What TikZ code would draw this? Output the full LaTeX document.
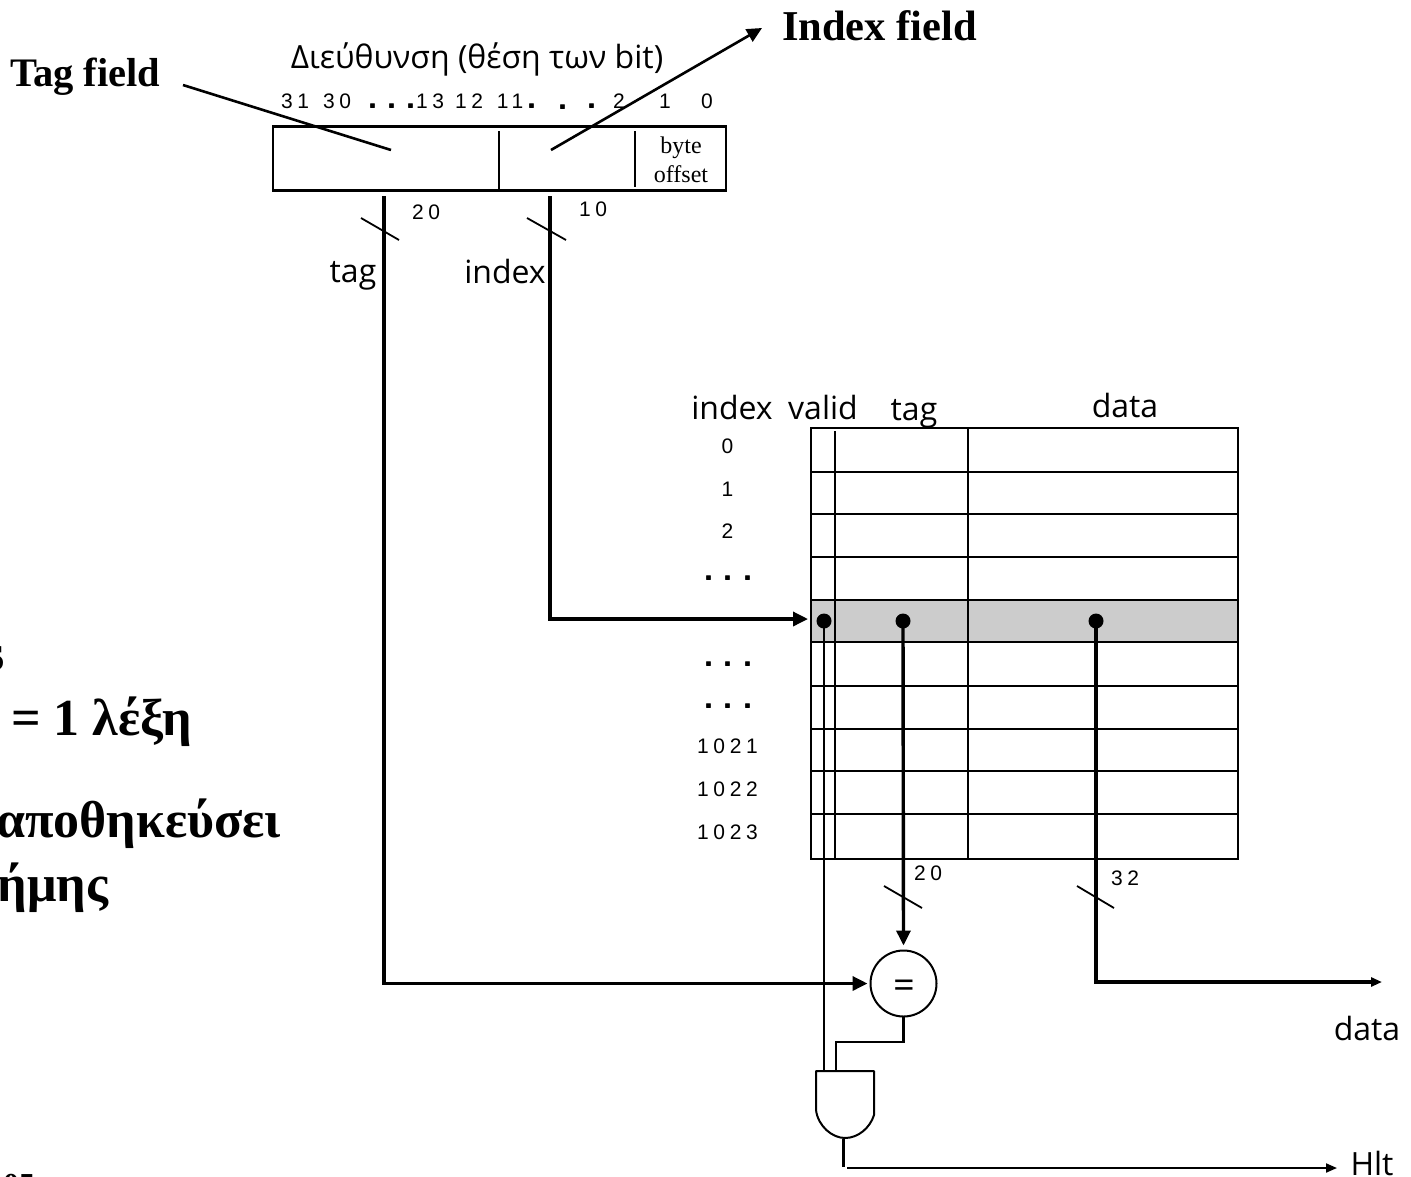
\documentclass[tikz,border=0pt]{standalone}
\usepackage{fontspec}
\usetikzlibrary{arrows.meta,calc}
\setmainfont{Liberation Serif}
\newfontfamily\cmc{Open Sans}
\newfontfamily\nums[LetterSpace=22]{Liberation Sans}
\definecolor{rowgray}{RGB}{204,204,204}
\newcommand{\fsz}[1]{\fontsize{#1}{#1}\selectfont}
\tikzset{
  x=1pt,y=-1pt,
  every node/.style={inner sep=0pt,outer sep=0pt},
  thinl/.style={line width=2.1pt,line cap=butt},
  thickl/.style={line width=3.4pt},
  tip/.style={-{Triangle[length=15pt,width=14pt]}},
  smalltip/.style={-{Triangle[length=11pt,width=9pt]}},
  big/.style={font=\bfseries\fsz{#1}},
  bigleft/.style={font=\bfseries\fsz{52},anchor=base east},
  cmclabel/.style={font=\cmc\fsz{32},anchor=base},
  num/.style={font=\nums\fsz{21}},
  srf/.style={font=\fsz{24},anchor=base},
  dotl/.style={font=\bfseries\sffamily\fsz{36},anchor=base},
  pin/.style={fill=black,circle,minimum size=15pt},
  boxs/.style={draw,line width=2.2pt,rectangle},
}
\begin{document}
\begin{tikzpicture}
\useasboundingbox (0,0) rectangle (1411,1176);
% clipped text at the left edge
\begin{scope}
\clip (0,0) rectangle (1411,1176);
\node[bigleft] (tl1) at (5,670) {s};
\node[bigleft] (tl2) at (192,735) {= 1 λέξη};
\node[bigleft] (tl3) at (281,837) {αποθηκεύσει};
\node[bigleft] (tl4) at (108,901) {ήμης};
\node[font=\bfseries\fsz{32},anchor=base west] (tl5) at (3,1195) {05};
\end{scope}
% address box
\node[boxs,minimum width=453pt,minimum height=64pt] (addr) at (499.5,158.5) {};
\coordinate (divA1) at (499,131); \coordinate (divA2) at (499,189);
\coordinate (divB1) at (635,131); \coordinate (divB2) at (635,187);
\draw[thinl,line width=2.4pt] (divA1) -- (divA2);
\draw[thinl,line width=2.4pt] (divB1) -- (divB2);
\node[srf] (byte) at (681,153) {byte};
\node[srf] (offset) at (681,182) {offset};
\node[big=40.5,anchor=base west] (tagfield) at (10,86) {Tag field};
\node[big=42.5,anchor=base west] (indexfield) at (782,40) {Index field};
\node[cmclabel] (addrtitle) at (477,68) {Διεύθυνση (θέση των bit)};
\coordinate (tfS) at (183,85); \coordinate (tfE) at (391,150);
\coordinate (ifS) at (551,150); \coordinate (ifE) at (762,28);
\draw[thinl,line width=2.6pt] (tfS) -- (tfE);
\draw[thinl,line width=2.6pt,tip] (ifS) -- (ifE);
% bit numbers
\foreach \n/\x/\t in {b31/295/31,b30/337/30,b13/430/13,b12/469/12,b11/510/11,b2/619/2,b1/665/1,b0/707/0}
  \node[num] (\n) at (\x,101) {\t};
\foreach \n/\x/\y in {d1/373/108.5,d2/392/108.5,d3/411/108.5,d4/532/108.5,d5/563/109.5,d6/592/108.5}
  \node[dotl] (\n) at (\x,\y) {.};
\node[num] (n20a) at (426,212) {20};
\node[num] (n10) at (593,209) {10};
\node[cmclabel] (lbltag) at (353,282) {tag};
\node[cmclabel] (lblindex) at (505,283) {index};
% table
\fill[rowgray] (811,600) rectangle (1238,642);
\node[draw,line width=2pt,minimum width=427pt,minimum height=431pt] (tbl) at (1024.5,643.5) {};
\foreach \y/\i in {472/a,514/b,557/c,600/d,642/e,686/f,729/g,771/h,814/i} {
  \coordinate (rowL\i) at (811,\y); \coordinate (rowR\i) at (1238,\y);
  \draw[thinl] (rowL\i) -- (rowR\i);
}
\coordinate (colAt) at (835,431); \coordinate (colAb) at (835,859);
\coordinate (colBt) at (968,428); \coordinate (colBb) at (968,859);
\draw[thinl] (colAt) -- (colAb);
\draw[thinl] (colBt) -- (colBb);
\node[cmclabel] (hindex) at (732,419) {index};
\node[cmclabel] (hvalid) at (823,419) {valid};
\node[cmclabel] (htag) at (914,420) {tag};
\node[cmclabel] (hdata) at (1125,417) {data};
\foreach \n/\y/\t in {i0/446/0,i1/489/1,i2/531/2,i1021/746/1021,i1022/789/1022,i1023/832/1023}
  \node[num] (\n) at (727.5,\y) {\t};
\foreach \n/\x/\y in {e1/709/580,e2/728/580,e3/748/580,e4/709/666,e5/728/666,e6/748/666,e7/709/708,e8/728/708,e9/748/708}
  \node[dotl] (\n) at (\x,\y) {.};
\node[pin] (pv) at (824,621) {};
\node[pin] (pt) at (903,621) {};
\node[pin] (pd) at (1096,621) {};
\node[num] (n20b) at (928,873) {20};
\node[num] (n32) at (1125,878) {32};
% comparator and gate
\node[draw,circle,line width=2pt,minimum size=66pt] (cmp) at (903.5,983.5) {};
\node[font=\cmc\fsz{38},anchor=base] (eqsign) at (904,998) {=};
\coordinate (gTL) at (816,1071); \coordinate (gTR) at (874,1071);
\coordinate (gLd) at (816,1110); \coordinate (gRd) at (874,1115);
\coordinate (gB) at (845,1138);
\draw[line width=2pt,line join=round] (gLd) -- (gTL) -- (gTR) -- (gRd)
  .. controls (870,1128) and (858,1138) .. (gB)
  .. controls (832,1138) and (818,1126) .. (gLd);
% connectors
\coordinate (tagS) at (384,196); \coordinate (tagC) at (384,983.5);
\coordinate (idxS) at (550,196); \coordinate (idxC) at (550,619);
\coordinate (idxE) at (808,619);
\draw[thickl,tip,line join=miter,shorten >=3pt] (tagS) -- (tagC) -- (cmp.west);
\draw[thickl,tip,line join=miter] (idxS) -- (idxC) -- (idxE);
\draw[thickl,tip,shorten >=5pt] (pt.center) -- (cmp.north);
\coordinate (datC) at (1096,982); \coordinate (datE) at (1382,982);
\draw[thickl,smalltip,line join=miter] (pd.center) -- (datC) -- (datE);
\coordinate (vldE) at (824,1071);
\draw[line width=2.2pt] (pv.center) -- (vldE);
\coordinate (cmpC1) at (903.5,1042); \coordinate (cmpC2) at (836,1042); \coordinate (cmpE) at (836,1071);
\draw[line width=2.2pt] (cmp.south) -- (cmpC1) -- (cmpC2) -- (cmpE);
\coordinate (gOut) at (843.5,1167); \coordinate (hS) at (847,1168); \coordinate (hE) at (1337,1168);
\draw[line width=2.2pt] ($(gB)+(-1.5,1)$) -- (gOut);
\draw[line width=2pt,smalltip] (hS) -- (hE);
% bus slashes
\foreach \a/\b/\c/\d/\n in {361/218/399/240/sa,527/218/566/240/sb,884/886/922/908/sc,1077/886/1114/908/sd} {
  \coordinate (\n1) at (\a,\b); \coordinate (\n2) at (\c,\d);
  \draw[line width=1.8pt] (\n1) -- (\n2);
}
\node[cmclabel] (odata) at (1367,1040) {data};
\node[cmclabel] (ohlt) at (1372,1175) {Hlt};
\end{tikzpicture}
\end{document}
